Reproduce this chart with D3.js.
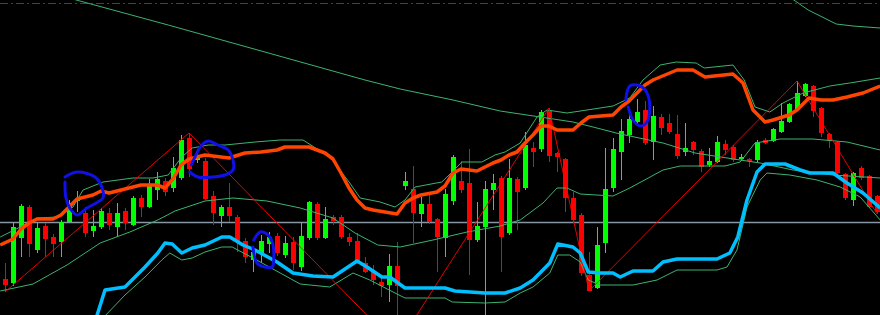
<!DOCTYPE html>
<html>
<head>
<meta charset="utf-8">
<script src="https://cdn.jsdelivr.net/npm/d3@7"></script>
<style>
	html, body { margin: 0; padding: 0; background: #000; overflow: hidden; }
	svg { display: block; }
</style>
</head>
<body>
<svg id="chart"></svg>
<script>
const WIDTH = 880,
	HEIGHT = 315;

// candles (price in points above the bottom of the window)
const open = [36,32,77,108,65,89,78,73,93,114, 102,84,88,102,88,104,90,117,108,125,
	134,127,137,177,155,154,119,99,108,98, 74,55,62,71,79,60,73,48,77,111,
	77,98,98,78,74,52,44,33,30,49, 129,126,101,111,96,77,114,134,132,75,
	88,125,137,82,136,127,167,166,205,162, 156,117,100,40,27,72,127,163,180,193,
	205,173,198,192,181,163,173,164,150,153, 171,168,156,156,155,175,174,183,193,206,
	219,229,207,181,173,141,115,147,139,119];
const close = [30,88,109,71,87,76,71,93,112,116, 82,89,104,90,102,92,117,108,130,136,
	123,147,175,146,157,116,102,108,99,73, 58,63,74,78,62,72,52,79,113,77,
	96,94,78,73,53,43,35,29,49,29, 134,102,111,93,78,121,158,125,75,89,
	126,132,78,137,123,170,163,203,159,158, 117,95,42,24,70,126,166,184,196,203,
	172,199,187,183,159,167,165,148,154,173, 165,155,158,154,173,172,186,194,211,222,
	231,204,182,174,142,117,142,137,108,103];
const high = [52,93,111,110,92,92,81,95,115,124, 108,105,107,107,112,107,119,120,136,143,
	137,158,180,182,166,157,124,110,132,100, 77,68,80,83,82,79,78,92,114,113,
	108,100,100,82,82,58,50,38,61,73, 143,149,118,122,97,126,160,154,166,113,
	134,141,139,156,138,183,173,205,207,163, 157,123,102,63,88,167,177,196,200,216,
	214,209,201,201,200,192,174,166,167,179, 175,170,161,157,175,177,187,212,212,234,
	232,230,208,182,174,142,143,149,140,120];
const low = [23,29,58,58,62,58,58,58,92,103, 78,78,86,85,78,85,89,98,107,115,
	119,123,135,138,152,115,90,88,93,63, 52,43,52,62,59,57,45,44,75,75,
	76,90,76,69,52,42,30,18,13,-31, 125,72,88,91,43,58,110,122,40,73,
	-5,105,43,80,85,125,148,163,153,143, 103,92,39,24,26,62,123,135,172,191,
	170,155,180,181,156,159,160,143,148,152, 160,153,154,148,153,171,173,182,192,205,
	218,198,178,167,141,115,109,135,107,101];

// indicator lines: [bar, price]
const upperBand = [[-0.6,70],[1,76],[2,86],[3,92],[4,96],[6,96],[7,100],[8,108],[9,116],[11,120],
	[12,124],[13,122],[15,126],[17,130],[19,130],[20,127],[21,136],[22,150],[23,156],[25,160],
	[27,158],[28,157],[30,162],[32,163],[34,165],[35,168],[38,168],[39,165],[40,162],[41,156],
	[42,142],[43,127],[44,115],[45,107],[46,105],[49,101],[50,112],[51,117],[52,120],[54,123],
	[55,129],[56,142],[57,146],[59,144],[60,148],[61,152],[62,155],[63,160],[64,163],[65,172],
	[66,180],[67,189],[68,189],[69,185],[71,185],[72,192],[73,198],[76,200],[77,208],[78,214],
	[80,230],[81,235],[84,245],[86,245],[87.5,238],[91,241],[92.25,232],[93.5,205],[95,193],[96,195],
	[98,200],[99,205],[100.5,217],[102,215],[103.5,215],[105.25,218],[107.25,222],[109.4,229]];
const lowerBand = [[11.2,-8],[12.5,25],[15,28],[17.5,48],[19.1,62],[20,72],[20.9,71],[22.1,62],[23.4,67],[25,70],
	[27.1,78],[28.1,78],[29.75,70],[31.25,65],[34,53],[36,42],[38.5,39],[41,38],[44,54],[45.25,48],
	[47.1,38],[48.1,38],[50,27],[55,27],[56.25,24],[60,22],[62.5,22],[64.4,27],[66,35],[68.1,52],
	[69.1,71],[71,68],[71.9,62],[72.9,43],[74.4,42],[76,42],[76.9,38],[78.5,44],[81,44],[82.25,53],
	[84,56],[89,56],[90.6,62],[91.6,78],[92.75,115],[94,143],[95,151],[97.5,151],[99.4,145],[100.6,142],
	[103.5,142],[105.25,132],[107.25,122],[109.4,107]];
const envUpper = [[-0.6,78],[1.9,88],[4,97],[6.5,98],[8.5,108],[9.75,125],[12.25,133],[16,137],[18.5,137],[20.4,140],
	[22.1,158],[23.4,167],[25.4,170],[27.5,170],[31.25,173],[34.4,175],[37.25,175],[40.6,158],[43.1,132],[44.4,117],
	[46.9,113],[48.75,108],[50,115],[51.25,128],[54.6,133],[55.9,143],[57.1,153],[59.6,153],[61.25,160],[62.5,163],
	[64.4,172],[66.5,198],[67.75,205],[70.25,202],[72.75,205],[76,209],[78.1,217],[79.75,235],[81.9,250],[83.9,253],
	[86.4,252],[87.4,247],[91,250],[92.4,235],[93.75,208],[95.6,203],[97.25,212],[99.75,222],[103.1,229],[105.6,232],
	[109.4,237]];
const envLower = [[12.25,-3],[15,20],[17.5,38],[19.6,55],[20.6,62],[22.1,55],[23.4,57],[25,63],[27.1,68],[28.4,68],
	[31,57],[34.4,42],[36.9,31],[40.6,28],[43.5,42],[45.6,35],[48.75,22],[50,17],[55,17],[55.9,13],
	[60,12],[62.5,13],[64.4,22],[66,28],[68.1,42],[69.1,60],[70.6,60],[71.9,53],[72.9,35],[74.4,30],
	[78.5,30],[81.5,35],[84,45],[89,45],[90.25,48],[91.5,65],[92.75,108],[94.4,135],[95.25,142],[98.1,140],
	[101.5,135],[104.4,128],[106.9,118],[109.4,95]];
const envMid = [[-0.6,24],[3.5,31],[7.75,50],[11.9,72],[15.6,83],[19.1,95],[21.25,104],[25,114],[28.5,117],[32.75,114],
	[36.9,107],[41,97],[43.75,82],[46.6,70],[49.4,68],[53.5,75],[57.75,83],[61.9,89],[64.4,95],[67.25,112],
	[69,127],[70.25,127],[71.9,121],[76,119],[78.1,127],[82.25,145],[84.4,149],[90,149],[91.9,153],[93.75,172],
	[96.9,176],[101,176],[105.25,173],[109.4,165]];
const longMa = [[6.9,320],[8.9,315],[20.4,290],[45,235],[49.4,226],[56,215],[61.9,204],[66.9,198],[71,193],[73.5,188],
	[76.9,181],[82.25,172],[86.25,162],[91.9,155],[94.4,152],[98.5,145],[103.5,140],[109.4,137]];
const longUpper = [[98.1,318],[98.6,315],[100.4,305],[103.9,291],[106,289],[109.4,287]];

// zigzag turning points
const zigBars = [0, 23, 49, 68, 73, 99, 109],
	zigValues = [23, 182, -31, 207, 24, 234, 101];

// horizontal levels
const greyLevel = 93,
	redLevel = 312;

// hand drawn marks: [bar, price]
const marks = [
	[[7.5,138],[9,143],[11.25,138],[12.1,128],[12.25,117],[11.6,113],[10.25,107],[9,100],[8.1,107],[7.6,118],[7.5,133]],
	[[23.3,150],[24.6,170],[25.4,174],[26.6,170],[27.9,165],[28.5,155],[28.5,145],[27.5,140],[25.9,138],[24.1,138],[23.1,143]],
	[[31.1,75],[31.9,83],[32.75,81],[33.4,73],[33.6,57],[33.4,48],[32.5,48],[31.5,52],[31,68]],
	[[77.6,215],[78.1,229],[79.4,229],[80.25,222],[80.6,208],[80.25,193],[79.4,189],[78.5,195],[77.9,208]]
];

const xScale = d3.scaleLinear().domain([0, 109]).range([5, 877]),
	yScale = d3.scaleLinear().domain([0, 315]).range([315, 0]);

const svg = d3.select('svg#chart')
	.attr('width', WIDTH)
	.attr('height', HEIGHT)
	.style('background', '#000');

svg.append('rect')
	.attr('width', WIDTH)
	.attr('height', HEIGHT)
	.attr('fill', '#000');

// levels
svg.append('line')
	.attr('x1', 0).attr('x2', WIDTH)
	.attr('y1', Math.round(yScale(greyLevel)) + 0.5)
	.attr('y2', Math.round(yScale(greyLevel)) + 0.5)
	.attr('stroke', '#8896a4')
	.attr('stroke-width', 1.5);

svg.append('line')
	.attr('x1', 0).attr('x2', WIDTH)
	.attr('y1', Math.round(yScale(redLevel)) + 0.5)
	.attr('y2', Math.round(yScale(redLevel)) + 0.5)
	.attr('stroke', '#e00000')
	.attr('stroke-dasharray', '8,3,2,3');

// candles
const bars = d3.range(open.length).map(i => ({
	i, o: open[i], h: high[i], l: low[i], c: close[i], up: close[i] >= open[i]
}));

const candleG = svg.append('g').attr('shape-rendering', 'crispEdges');

candleG.selectAll('line.wick').data(bars).enter().append('line')
	.classed('wick', true)
	.attr('x1', d => Math.round(xScale(d.i)) + 0.5)
	.attr('x2', d => Math.round(xScale(d.i)) + 0.5)
	.attr('y1', d => yScale(d.h))
	.attr('y2', d => yScale(d.l))
	.attr('stroke', d => d.up ? '#00ff00' : '#ff0000');

candleG.selectAll('rect.body').data(bars).enter().append('rect')
	.classed('body', true)
	.attr('x', d => Math.round(xScale(d.i)) - 2)
	.attr('width', 5)
	.attr('y', d => yScale(Math.max(d.o, d.c)))
	.attr('height', d => Math.max(1, Math.abs(yScale(d.o) - yScale(d.c))))
	.attr('fill', d => d.up ? '#00ff00' : '#ff0000');

// indicators
const line = d3.line()
	.x(d => xScale(d[0]))
	.y(d => yScale(d[1]));

const thin = [envUpper, envLower, envMid, longMa, longUpper];
svg.append('g').selectAll('path').data(thin).enter().append('path')
	.attr('d', line)
	.attr('fill', 'none')
	.attr('stroke', '#3cb371')
	.attr('stroke-width', 1);

svg.append('path')
	.attr('d', line(zigBars.map((b, k) => [b, zigValues[k]])))
	.attr('fill', 'none')
	.attr('stroke', '#ff0000')
	.attr('stroke-width', 0.9);

svg.append('path')
	.attr('d', line(upperBand))
	.attr('fill', 'none')
	.attr('stroke', '#ff4500')
	.attr('stroke-width', 3.5)
	.attr('stroke-linejoin', 'round');

svg.append('path')
	.attr('d', line(lowerBand))
	.attr('fill', 'none')
	.attr('stroke', '#00bfff')
	.attr('stroke-width', 3.5)
	.attr('stroke-linejoin', 'round');

// annotations
const markLine = d3.line()
	.x(d => xScale(d[0]))
	.y(d => yScale(d[1]))
	.curve(d3.curveCatmullRom);

svg.append('g').selectAll('path').data(marks).enter().append('path')
	.attr('d', markLine)
	.attr('fill', 'none')
	.attr('stroke', '#1010e8')
	.attr('stroke-width', 3)
	.attr('stroke-linecap', 'round');
</script>
</body>
</html>
